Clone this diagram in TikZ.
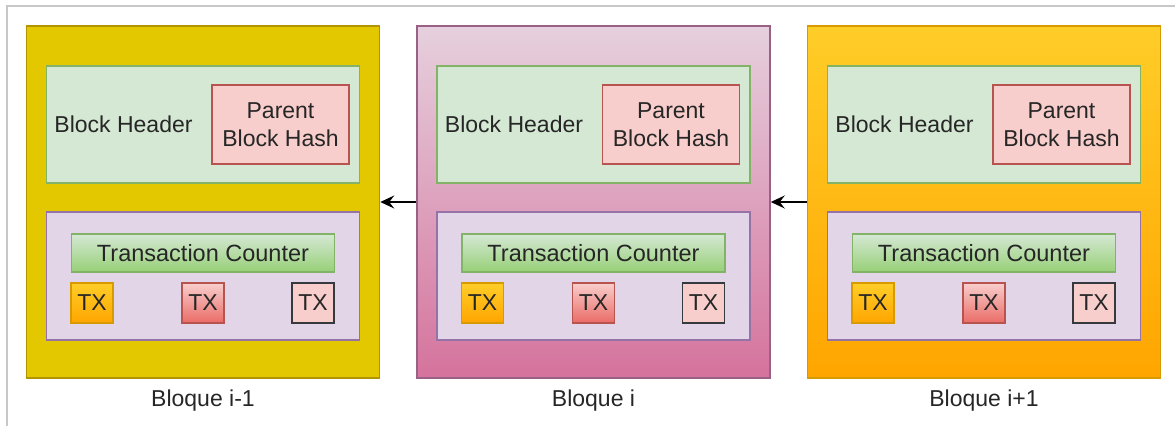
\documentclass[tikz,border=0pt]{standalone}
\usepackage{fontspec}
\setmainfont{Liberation Sans}
\usetikzlibrary{arrows.meta}

\definecolor{ylwfill}{HTML}{E3C800}
\definecolor{ylwline}{HTML}{B09500}
\definecolor{pnktop}{HTML}{E6D0DE}
\definecolor{pnkbot}{HTML}{D5739D}
\definecolor{pnkline}{HTML}{996185}
\definecolor{orgtop}{HTML}{FFCD28}
\definecolor{orgbot}{HTML}{FFA500}
\definecolor{orgline}{HTML}{D79B00}
\definecolor{grnfill}{HTML}{D5E8D4}
\definecolor{grnbot}{HTML}{97D077}
\definecolor{grnline}{HTML}{82B366}
\definecolor{redfill}{HTML}{F8CECC}
\definecolor{redbot}{HTML}{EA6B66}
\definecolor{redline}{HTML}{B85450}
\definecolor{purfill}{HTML}{E1D5E7}
\definecolor{purline}{HTML}{9673A6}
\definecolor{darkline}{HTML}{36393D}
\definecolor{framegray}{HTML}{C8C8C8}

\tikzset{
	box/.style={draw, line width=1.5pt, inner sep=0pt},
	block/.style={box, minimum width=353pt, minimum height=352pt},
	header/.style={box, draw=grnline, fill=grnfill, minimum width=313pt, minimum height=117pt},
	hash/.style={box, draw=redline, fill=redfill, minimum width=137pt, minimum height=79pt, align=center, font=\fontsize{23}{28}\selectfont},
	txlist/.style={box, draw=purline, fill=purfill, minimum width=313pt, minimum height=128pt},
	counter/.style={box, draw=grnline, top color=grnfill, bottom color=grnbot, minimum width=263pt, minimum height=38pt, font=\fontsize{23.5}{28}\selectfont},
	tx/.style={box, minimum width=42pt, minimum height=40pt},
	label/.style={font=\fontsize{23}{28}\selectfont, text=black!85},
	link/.style={line width=1.5pt, -{Stealth[length=14pt, width=13pt, inset=5pt]}}
}

\begin{document}
\begin{tikzpicture}[x=1pt, y=-1pt, every node/.append style={font=\fontsize{23}{28}\selectfont, text=black!85}]
	\useasboundingbox (0,0) rectangle (1175,426);
	\draw[framegray, line width=1.2pt] (7,426) -- (7,6) -- (1175,6);

	% bloque i-1
	\node[block, draw=ylwline, fill=ylwfill] (blkA) at (203, 202) {};
	\node[header] (hdrA) at (203, 124.5) {};
	\node (hdrtxtA) at (123.5, 124) {Block Header};
	\node[hash] (hashA) at (280.5, 124.5) {Parent\\Block Hash};
	\node[txlist] (lstA) at (203, 276) {};
	\node[counter] (cntA) at (203, 253) {Transaction Counter};
	\node[tx, draw=orgline, top color=orgtop, bottom color=orgbot] (txA1) at (92, 303) {TX};
	\node[tx, draw=redline, top color=redfill, bottom color=redbot] (txA2) at (203, 303) {TX};
	\node[tx, draw=darkline, fill=redfill] (txA3) at (313, 303) {TX};
	\node[label] (nameA) at (203, 401) {Bloque i-1};

	% bloque i
	\node[block, draw=pnkline, top color=pnktop, bottom color=pnkbot] (blkB) at (593.5, 202) {};
	\node[header] (hdrB) at (593.5, 124.5) {};
	\node (hdrtxtB) at (514, 124) {Block Header};
	\node[hash] (hashB) at (671, 124.5) {Parent\\Block Hash};
	\node[txlist] (lstB) at (593.5, 276) {};
	\node[counter] (cntB) at (593.5, 253) {Transaction Counter};
	\node[tx, draw=orgline, top color=orgtop, bottom color=orgbot] (txB1) at (482.5, 303) {TX};
	\node[tx, draw=redline, top color=redfill, bottom color=redbot] (txB2) at (593.5, 303) {TX};
	\node[tx, draw=darkline, fill=redfill] (txB3) at (703.5, 303) {TX};
	\node[label] (nameB) at (593.5, 401) {Bloque i};

	% bloque i+1
	\node[block, draw=orgline, top color=orgtop, bottom color=orgbot] (blkC) at (984, 202) {};
	\node[header] (hdrC) at (984, 124.5) {};
	\node (hdrtxtC) at (904.5, 124) {Block Header};
	\node[hash] (hashC) at (1061.5, 124.5) {Parent\\Block Hash};
	\node[txlist] (lstC) at (984, 276) {};
	\node[counter] (cntC) at (984, 253) {Transaction Counter};
	\node[tx, draw=orgline, top color=orgtop, bottom color=orgbot] (txC1) at (873, 303) {TX};
	\node[tx, draw=redline, top color=redfill, bottom color=redbot] (txC2) at (984, 303) {TX};
	\node[tx, draw=darkline, fill=redfill] (txC3) at (1094, 303) {TX};
	\node[label] (nameC) at (984, 401) {Bloque i+1};

	\draw[link] (blkB.west) -- (blkA.east);
	\draw[link] (blkC.west) -- (blkB.east);

\end{tikzpicture}
\end{document}
